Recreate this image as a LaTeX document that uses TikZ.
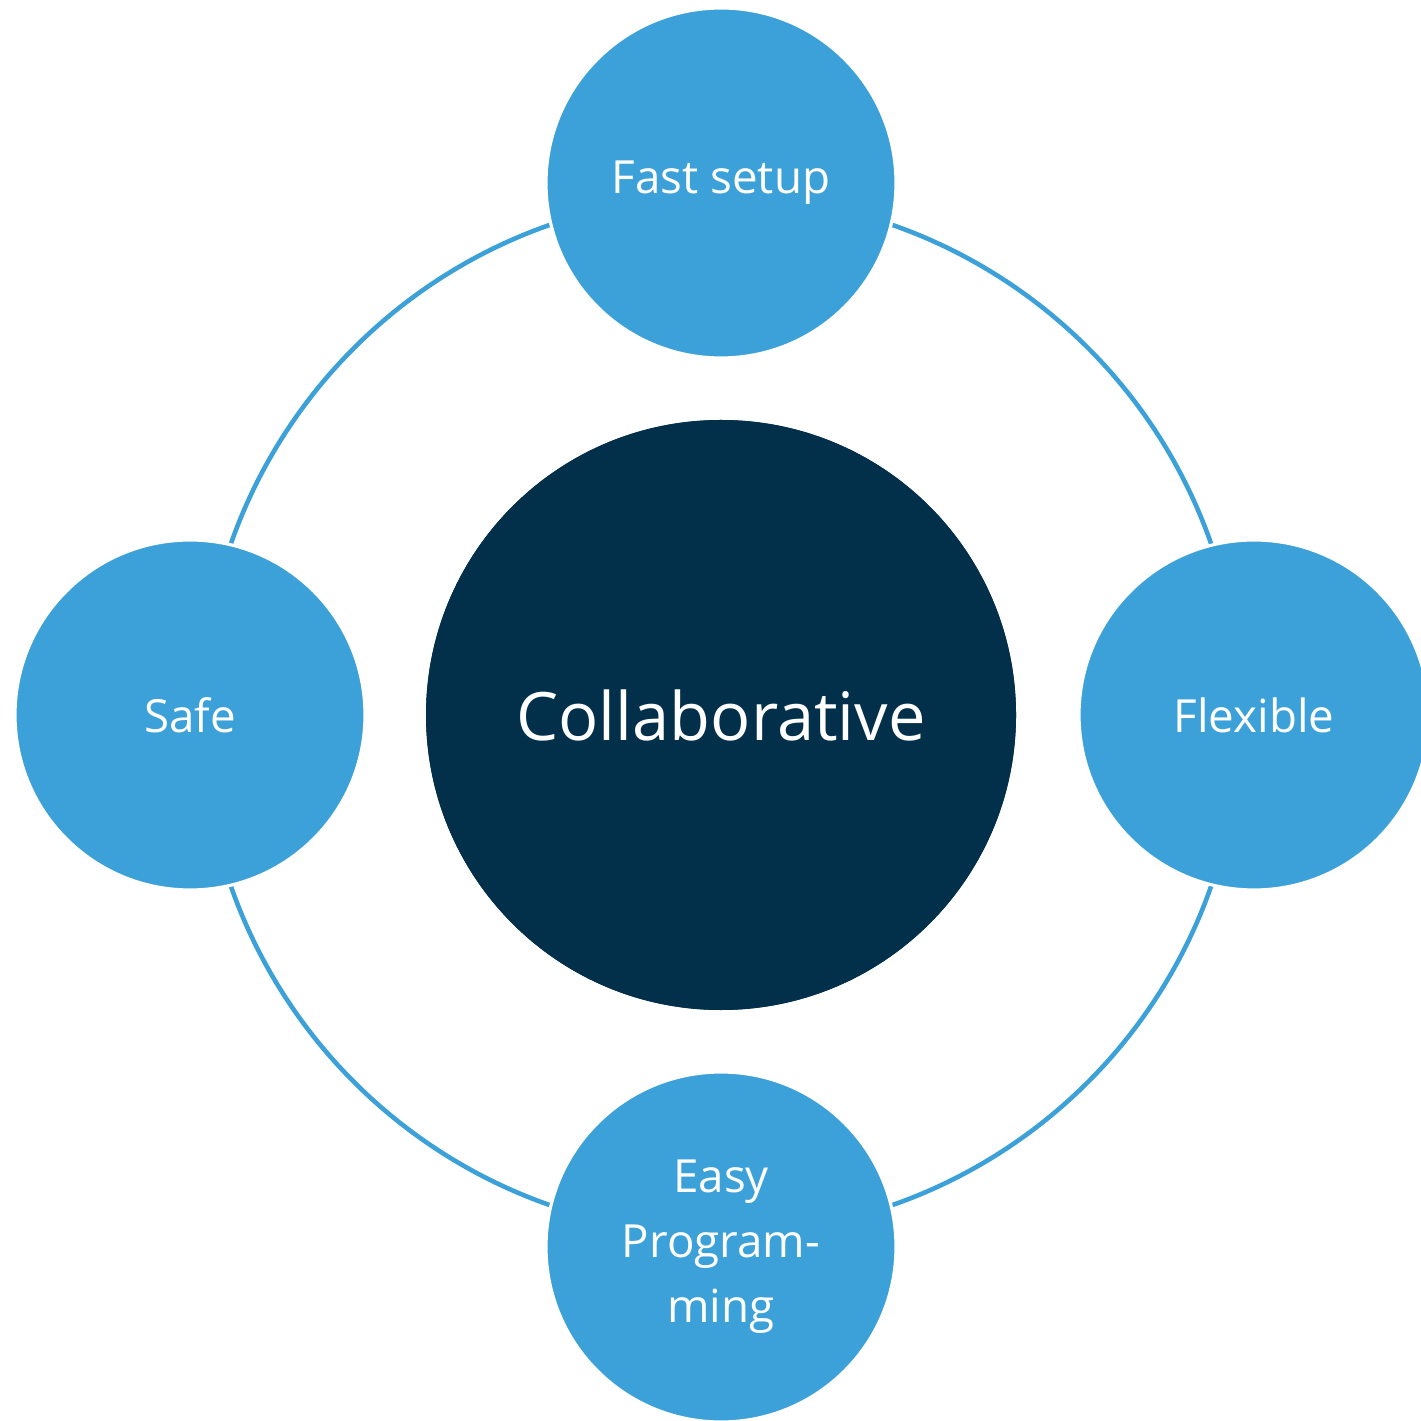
\documentclass[tikz,border=0pt]{standalone}
\usepackage{fontspec}
\setmainfont{Open Sans}
\usepackage{tikz}
\definecolor{ringblue}{HTML}{3CA1D9}
\definecolor{corenavy}{HTML}{022F4A}

\begin{document}
\begin{tikzpicture}
\tikzstyle{satellite}=[circle,fill=ringblue,draw=white,line width=0.9pt,minimum size=3.5cm,inner sep=0pt,text=white,font=\fontsize{13}{18.5}\selectfont,align=center]
\tikzstyle{core}=[circle,fill=corenavy,minimum size=5.9cm,inner sep=0pt,text=white,font=\fontsize{19}{24}\selectfont]
\useasboundingbox (0,0) rectangle (14.21,14.20);
\node[core] (collab) at (7.21,7.05) {};
\draw[ringblue,line width=1.3pt] (collab) circle (5.19);
\node[core] at (collab) {Collaborative};
\foreach \name/\point/\txt in {
	fast/{7.21,12.37}/{Fast setup},
	flex/{12.54,7.05}/{Flexible},
	easy/{7.21,1.73}/{Easy\\Program-\\ming},
	safe/{1.90,7.05}/{Safe}}
	\node[satellite] (\name) at (\point) {\txt};
\end{tikzpicture}
\end{document}
